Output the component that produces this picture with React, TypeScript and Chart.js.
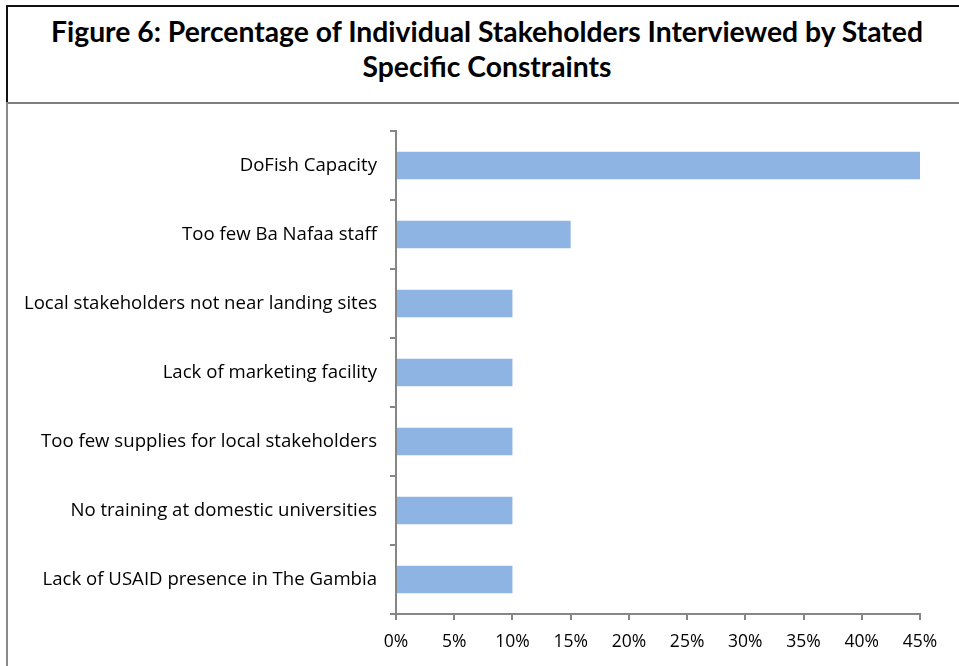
import React, { useEffect, useRef } from "react";
import { Chart, registerables } from "chart.js";

Chart.register(...registerables);

const categories = [
  "DoFish Capacity",
  "Too few Ba Nafaa staff",
  "Local stakeholders not near landing sites",
  "Lack of marketing facility",
  "Too few supplies for local stakeholders",
  "No training at domestic universities",
  "Lack of USAID presence in The Gambia",
];
const percentValues = [45, 15, 10, 10, 10, 10, 10];
const xTickStep = 5;
const xMax = 45;

const TITLE_LINE_1 = "Figure 6: Percentage of Individual Stakeholders Interviewed by Stated";
const TITLE_LINE_2 = "Specific Constraints";

const AXIS_COLOR = "#868686";
const BAR_COLOR = "#8EB4E3";
const TITLE_FONT = "Lato, 'Open Sans', sans-serif";
const TICK_FONT = "'Open Sans', Lato, sans-serif";

export default function App() {
  const canvasRef = useRef<HTMLCanvasElement | null>(null);

  useEffect(() => {
    if (!canvasRef.current) return;
    const chart = new Chart(canvasRef.current, {
      type: "bar",
      data: {
        labels: categories,
        datasets: [
          {
            data: percentValues,
            backgroundColor: BAR_COLOR,
            borderWidth: 0,
            categoryPercentage: 1,
            barPercentage: 0.4,
          },
        ],
      },
      options: {
        indexAxis: "y",
        animation: false,
        responsive: false,
        maintainAspectRatio: false,
        layout: { padding: { top: 28, right: 39, left: 0, bottom: 0 } },
        plugins: {
          legend: { display: false },
          tooltip: { enabled: false },
          title: { display: false },
        },
        scales: {
          x: {
            min: 0,
            max: xMax,
            afterFit: (scale: any) => {
              scale.height = 52;
            },
            ticks: {
              stepSize: xTickStep,
              color: "#000",
              font: { family: TICK_FONT, size: 17.5 },
              padding: 12,
              callback: (v: any) => `${v}%`,
            },
            grid: {
              display: true,
              drawOnChartArea: false,
              drawTicks: true,
              tickLength: 6,
              color: AXIS_COLOR,
              lineWidth: 2,
            },
            border: { display: true, color: AXIS_COLOR, width: 2 },
          },
          y: {
            afterFit: (scale: any) => {
              scale.width = 387;
            },
            ticks: {
              color: "#000",
              font: { family: TICK_FONT, size: 18.6 },
              padding: 13,
              autoSkip: false,
            },
            grid: {
              display: true,
              offset: true,
              drawOnChartArea: false,
              drawTicks: true,
              tickLength: 6,
              color: AXIS_COLOR,
              lineWidth: 2,
            },
            border: { display: true, color: AXIS_COLOR, width: 2 },
          },
        },
      },
    });
    return () => chart.destroy();
  }, []);

  return (
    <div
      style={{
        position: "fixed",
        left: 0,
        top: 0,
        width: 959,
        height: 666,
        background: "#fff",
        overflow: "hidden",
      }}
    >
      <div
        style={{
          position: "absolute",
          left: 6,
          top: 5,
          width: 980,
          height: 95,
          borderTop: "2px solid #111",
          borderLeft: "2px solid #111",
          borderBottom: "2px solid #7f7f7f",
          boxSizing: "content-box",
        }}
      />
      <div
        style={{
          position: "absolute",
          left: 6,
          top: 102,
          width: 0,
          height: 570,
          borderLeft: "2px solid #8a8a8a",
        }}
      />
      <div
        style={{
          position: "absolute",
          left: 8,
          top: 14,
          width: 958,
          textAlign: "center",
          fontFamily: TITLE_FONT,
          fontWeight: 700,
          fontSize: 28.3,
          lineHeight: "35px",
          color: "#000",
        }}
      >
        <div>{TITLE_LINE_1}</div>
        <div>{TITLE_LINE_2}</div>
      </div>
      <canvas
        ref={canvasRef}
        width={950}
        height={563}
        style={{ position: "absolute", left: 9, top: 103, width: 950, height: 563 }}
      />
    </div>
  );
}
